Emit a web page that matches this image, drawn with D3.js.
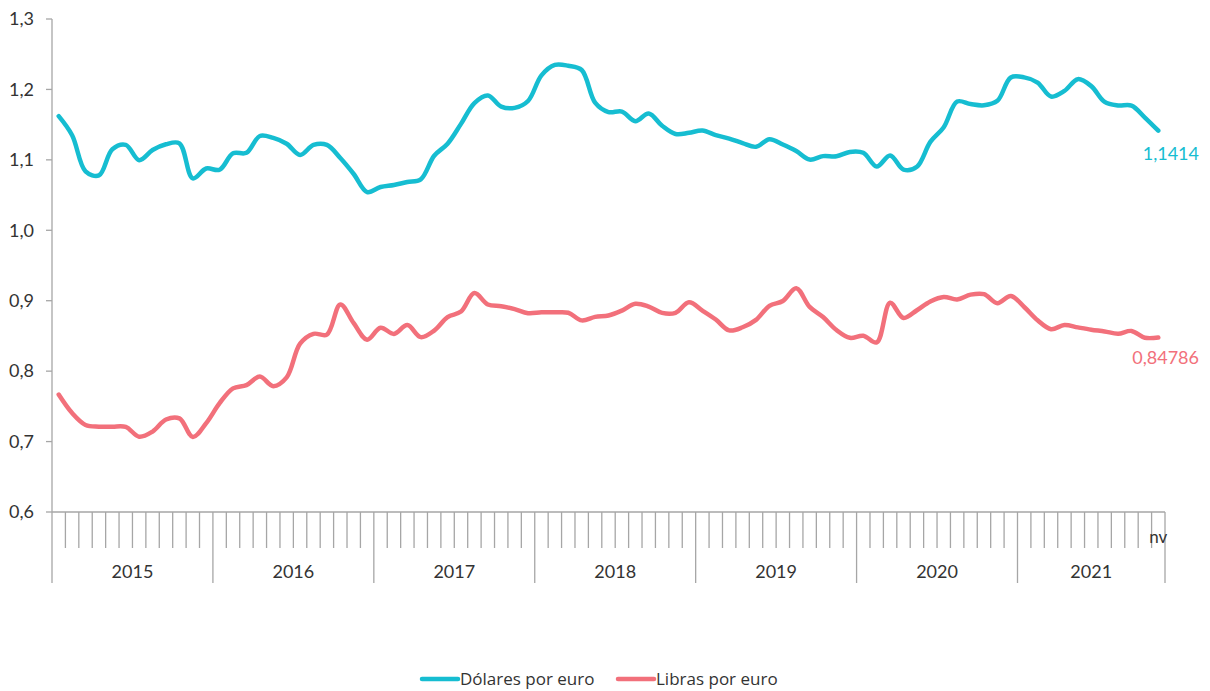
<!DOCTYPE html>
<html>
<head>
<meta charset="utf-8">
<script src="https://cdn.jsdelivr.net/npm/d3@7"></script>
<style>
  html, body { margin: 0; padding: 0; background: #fff; }
  svg { display: block; }
</style>
</head>
<body>
<svg id="chart" width="1210" height="691"></svg>
<script>
// ---- data ----
const years = ["2015", "2016", "2017", "2018", "2019", "2020", "2021"];
const months = [];
years.forEach(y => { for (let m = 1; m <= 12; m++) { if (y === "2021" && m > 11) break; months.push(y + "-" + String(m).padStart(2, "0")); } });
const lastMonthLabel = "nv";
const yTicks = [0.6, 0.7, 0.8, 0.9, 1.0, 1.1, 1.2, 1.3];

const dolares = [
  1.1621, 1.1350, 1.0838, 1.0779, 1.1150, 1.1213, 1.0996, 1.1139, 1.1221, 1.1235, 1.0736, 1.0877,
  1.0860, 1.1093, 1.1100, 1.1339, 1.1311, 1.1229, 1.1069, 1.1212, 1.1212, 1.1026, 1.0799, 1.0543,
  1.0614, 1.0643, 1.0685, 1.0723, 1.1058, 1.1229, 1.1511, 1.1807, 1.1915, 1.1756, 1.1738, 1.1836,
  1.2200, 1.2348, 1.2336, 1.2276, 1.1812, 1.1678, 1.1686, 1.1549, 1.1659, 1.1484, 1.1367, 1.1384,
  1.1416, 1.1351, 1.1302, 1.1238, 1.1185, 1.1293, 1.1218, 1.1126, 1.1004, 1.1053, 1.1051, 1.1113,
  1.1100, 1.0905, 1.1063, 1.0862, 1.0902, 1.1255, 1.1463, 1.1828, 1.1792, 1.1775, 1.1838, 1.2170,
  1.2171, 1.2098, 1.1899, 1.1979, 1.2146, 1.2047, 1.1822, 1.1772, 1.1770, 1.1601, 1.1414
];
const libras = [
  0.7668, 0.7405, 0.7236, 0.7212, 0.7212, 0.7208, 0.7069, 0.7142, 0.7313, 0.7329, 0.7066, 0.7262,
  0.7546, 0.7756, 0.7802, 0.7923, 0.7787, 0.7911, 0.8390, 0.8530, 0.8519, 0.8947, 0.8681, 0.8447,
  0.8616, 0.8529, 0.8655, 0.8483, 0.8576, 0.8767, 0.8846, 0.9108, 0.8946, 0.8922, 0.8880, 0.8823,
  0.8835, 0.8835, 0.8829, 0.8721, 0.8771, 0.8790, 0.8860, 0.8957, 0.8916, 0.8827, 0.8829, 0.8977,
  0.8860, 0.8733, 0.8579, 0.8623, 0.8728, 0.8928, 0.8996, 0.9178, 0.8912, 0.8768, 0.8584, 0.8473,
  0.8503, 0.8408, 0.8972, 0.8755, 0.8865, 0.8990, 0.9054, 0.9018, 0.9086, 0.9093, 0.8965, 0.9067,
  0.8911, 0.8722, 0.8596, 0.8655, 0.8621, 0.8589, 0.8564, 0.8532, 0.8571, 0.8475, 0.84786
];
const seriesNames = ["Dólares por euro", "Libras por euro"];
const endLabels = ["1,1414", "0,84786"];
const colors = ["#16BDD1", "#F2707B"];

// ---- layout ----
const svg = d3.select("#chart");
const mLeft = 52, mRight = 1165, mTop = 19, mBottom = 512;
const x = d3.scaleBand().domain(months).range([mLeft, mRight]).padding(0);
const y = d3.scaleLinear().domain([0.6, 1.3]).range([mBottom, mTop]);
const axisColor = "#a6a6a6";
const textColor = "#333";
const font = "Lato, 'Open Sans', sans-serif";
const legendFont = "'Open Sans', 'Noto Sans', sans-serif";
const fmt = v => d3.format(".1f")(v).replace(".", ",");

// y axis line (extends down through category area)
svg.append("line").attr("x1", mLeft).attr("x2", mLeft).attr("y1", mTop).attr("y2", 583)
  .attr("stroke", axisColor).attr("stroke-width", 1.3);

// y ticks
const yg = svg.append("g");
yTicks.forEach(t => {
  yg.append("line").attr("x1", mLeft - 6).attr("x2", mLeft).attr("y1", y(t)).attr("y2", y(t))
    .attr("stroke", axisColor).attr("stroke-width", 1.3);
  yg.append("text").attr("x", 34).attr("y", y(t)).attr("dy", "0.35em")
    .attr("text-anchor", "end").attr("font-family", font)
    .attr("font-size", 18).attr("fill", textColor).text(fmt(t));
});

// x axis line
svg.append("line").attr("x1", mLeft).attr("x2", mRight).attr("y1", mBottom).attr("y2", mBottom)
  .attr("stroke", axisColor).attr("stroke-width", 1.3);

// month ticks and year separators
months.forEach((m, i) => {
  if (i === 0) return;
  const isYear = m.endsWith("-01");
  svg.append("line").attr("x1", x(m)).attr("x2", x(m)).attr("y1", mBottom).attr("y2", isYear ? 583 : 548)
    .attr("stroke", axisColor).attr("stroke-width", 1.3);
});
svg.append("line").attr("x1", mRight).attr("x2", mRight).attr("y1", mBottom).attr("y2", 583)
  .attr("stroke", axisColor).attr("stroke-width", 1.3);

// year labels
years.forEach(yr => {
  const ms = months.filter(m => m.startsWith(yr));
  const x0 = x(ms[0]), x1 = x(ms[ms.length - 1]) + x.bandwidth();
  svg.append("text").attr("x", (x0 + x1) / 2).attr("y", 578)
    .attr("text-anchor", "middle").attr("font-family", font)
    .attr("font-size", 18).attr("fill", textColor).text(yr);
});
// last month label
const lastM = months[months.length - 1];
svg.append("text").attr("x", x(lastM) + x.bandwidth() / 2).attr("y", 543)
  .attr("text-anchor", "middle").attr("font-family", font)
  .attr("font-size", 17).attr("fill", textColor).text(lastMonthLabel);

// lines
const line = d3.line()
  .x((d, i) => x(months[i]) + x.bandwidth() / 2)
  .y(d => y(d))
  .curve(d3.curveCatmullRom.alpha(0.5));

[dolares, libras].forEach((s, k) => {
  svg.append("path").datum(s).attr("d", line).attr("fill", "none")
    .attr("stroke", colors[k]).attr("stroke-width", 4.5)
    .attr("stroke-linecap", "round").attr("stroke-linejoin", "round");
});

// end labels
svg.append("text").attr("x", 1199).attr("y", y(dolares[dolares.length - 1]) + 29)
  .attr("text-anchor", "end").attr("font-family", font)
  .attr("font-size", 18).attr("fill", colors[0]).text(endLabels[0]);
svg.append("text").attr("x", 1199).attr("y", y(libras[libras.length - 1]) + 27)
  .attr("text-anchor", "end").attr("font-family", font)
  .attr("font-size", 18).attr("fill", colors[1]).text(endLabels[1]);

// legend
const legend = [
  { name: seriesNames[0], color: colors[0], x: 422 },
  { name: seriesNames[1], color: colors[1], x: 618 }
];
legend.forEach(l => {
  svg.append("line").attr("x1", l.x).attr("x2", l.x + 36).attr("y1", 679).attr("y2", 679)
    .attr("stroke", l.color).attr("stroke-width", 4.5).attr("stroke-linecap", "round");
  svg.append("text").attr("x", l.x + 38).attr("y", 679).attr("dy", "0.35em")
    .attr("font-family", legendFont).attr("font-size", 17)
    .attr("fill", textColor).text(l.name);
});
</script>
</body>
</html>
